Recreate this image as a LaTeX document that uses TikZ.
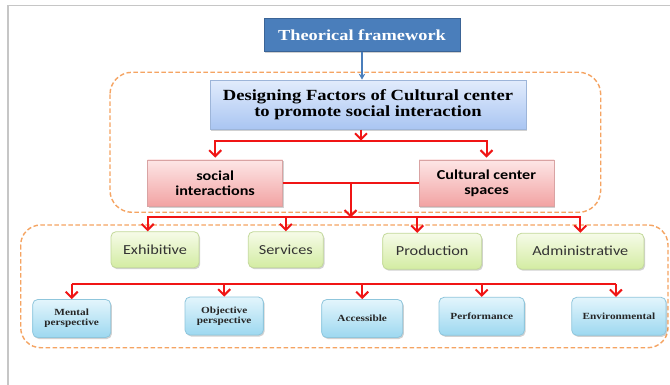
\documentclass[tikz,border=0pt]{standalone}
\usepackage{fontspec}
\usetikzlibrary{arrows.meta,shadows}
\newfontfamily\tnr[FakeStretch=1.2]{Liberation Serif}
\newfontfamily\calib[FakeStretch=1.18]{Carlito}
\definecolor{theofill}{HTML}{4A7EBB}
\definecolor{theoline}{HTML}{3B6496}
\definecolor{designtop}{HTML}{E2ECFC}
\definecolor{designbot}{HTML}{A9C5F2}
\definecolor{designline}{HTML}{9DB5D9}
\definecolor{pinktop}{HTML}{FDE6E6}
\definecolor{pinkbot}{HTML}{F2A2A2}
\definecolor{pinkline}{HTML}{D9A3A3}
\definecolor{greentop}{HTML}{F6FBE8}
\definecolor{greenbot}{HTML}{D3ECA2}
\definecolor{greenline}{HTML}{C3D99A}
\definecolor{cyantop}{HTML}{E3F5FC}
\definecolor{cyanbot}{HTML}{9DD8F0}
\definecolor{cyanline}{HTML}{8FC6DC}
\definecolor{linkred}{HTML}{F01515}
\definecolor{grouporange}{HTML}{F5A462}
\definecolor{framegray}{HTML}{C6C6C6}
\begin{document}
\begin{tikzpicture}[x=1pt,y=-1pt,
  box/.style={inner sep=0pt, align=center,
    drop shadow={shadow xshift=1.2pt,shadow yshift=-1.5pt,fill=black,opacity=0.18}},
  theobox/.style={box, fill=theofill, draw=theoline, line width=1pt,
    minimum width=196pt, minimum height=33.4pt, text=white,
    font={\tnr\bfseries\fontsize{15.3}{18}\selectfont}},
  designbox/.style={box, top color=designtop, bottom color=designbot,
    draw=designline, line width=0.8pt, minimum width=316pt, minimum height=49.3pt,
    font={\tnr\bfseries\fontsize{15.5}{16.7}\selectfont}},
  pinkbox/.style={box, top color=pinktop, bottom color=pinkbot,
    draw=pinkline, line width=0.8pt, minimum width=135pt, minimum height=46.7pt,
    font={\calib\bfseries\fontsize{13.7}{15}\selectfont}},
  greenbox/.style={box, top color=greentop, bottom color=greenbot,
    draw=greenline, line width=0.8pt, rounded corners=5pt, minimum height=36pt,
    text=black!80, font={\calib\fontsize{13.8}{15}\selectfont}},
  cyanbox/.style={box, top color=cyantop, bottom color=cyanbot,
    draw=cyanline, line width=0.8pt, rounded corners=5pt, minimum height=38pt,
    text=black!85, font={\tnr\bfseries\fontsize{9.4}{10}\selectfont}},
  group/.style={draw=grouporange, line width=1.4pt, dash pattern=on 4.5pt off 2.5pt,
    rounded corners=22pt},
  redline/.style={draw=linkred, line width=2pt},
  redarrow/.style={redline, -{Straight Barb[length=6pt,width=12pt]}},
  bluearrow/.style={draw=theofill, line width=1.6pt, -{Stealth[length=6pt,width=6.5pt]}}
]
\useasboundingbox (0,0) rectangle (670,385);
\fill[white] (0,0) rectangle (670,385);
% page frame
\draw[framegray, line width=1.5pt] (8,385) -- (8,5.5) -- (670,5.5);

% dashed groups
\draw[group] (110,72.3) rectangle (600.7,212.3);
\draw[group, rounded corners=20pt] (20.7,225) rectangle (668,347.7);

% top level
\node[theobox] (theo) at (362,35) {Theorical framework};
\node[designbox] (design) at (368,104.7) {Designing Factors of Cultural center\\to promote social interaction};
\node[pinkbox] (social) at (215.2,183.3) {social\\interactions};
\node[pinkbox] (cultural) at (486.5,183.3) {Cultural center\\spaces};

% space types
\node[greenbox, minimum width=88pt] (exh) at (155,249.7) {Exhibitive};
\node[greenbox, minimum width=75pt] (serv) at (285.8,249.7) {Services};
\node[greenbox, minimum width=99pt] (prod) at (432.2,251.2) {Production};
\node[greenbox, minimum width=127.3pt] (admin) at (580.3,251.2) {Administrative};

% perspectives
\node[cyanbox, minimum width=78pt] (mental) at (71.7,318.5) {Mental\\perspective};
\node[cyanbox, minimum width=78.3pt] (objective) at (224.2,316) {Objective\\perspective};
\node[cyanbox, minimum width=81pt] (accessible) at (362.2,318.5) {Accessible};
\node[cyanbox, minimum width=85.3pt] (performance) at (481.7,316.3) {Performance};
\node[cyanbox, minimum width=94.3pt] (env) at (618.9,316.3) {Environmental};

% connectors
\draw[bluearrow] (theo.south) -- (theo.south |- design.north);

\coordinate (j1) at (361,140.7);
\draw[redarrow] (design.south -| j1) -- (j1);
\draw[redarrow] (j1) -| ([yshift=2pt]social.north);
\draw[redarrow] (j1) -| ([yshift=2pt]cultural.north);

\draw[redline] (social.east) -- (cultural.west);
\coordinate (j2) at (350.5,217.5);
\draw[redarrow] (social.east -| j2) -- (j2);
\draw[redarrow] (j2) -| ([xshift=-7.3pt]exh.north);
\draw[redarrow] (j2) -| (serv.north);
\draw[redarrow] (j2) -| ([xshift=-15pt]prod.north);
\draw[redarrow] (j2) -| (admin.north);

\coordinate (busL) at (71.7,284.3);
\coordinate (busR) at (616,284.3);
\draw[redline] (busL) -- (busR);
\foreach \n in {mental,objective,accessible,performance}
  \draw[redarrow] (\n.north |- busL) -- (\n.north);
\draw[redarrow] ([xshift=-3pt]env.north |- busR) -- ([xshift=-3pt]env.north);
\end{tikzpicture}
\end{document}
